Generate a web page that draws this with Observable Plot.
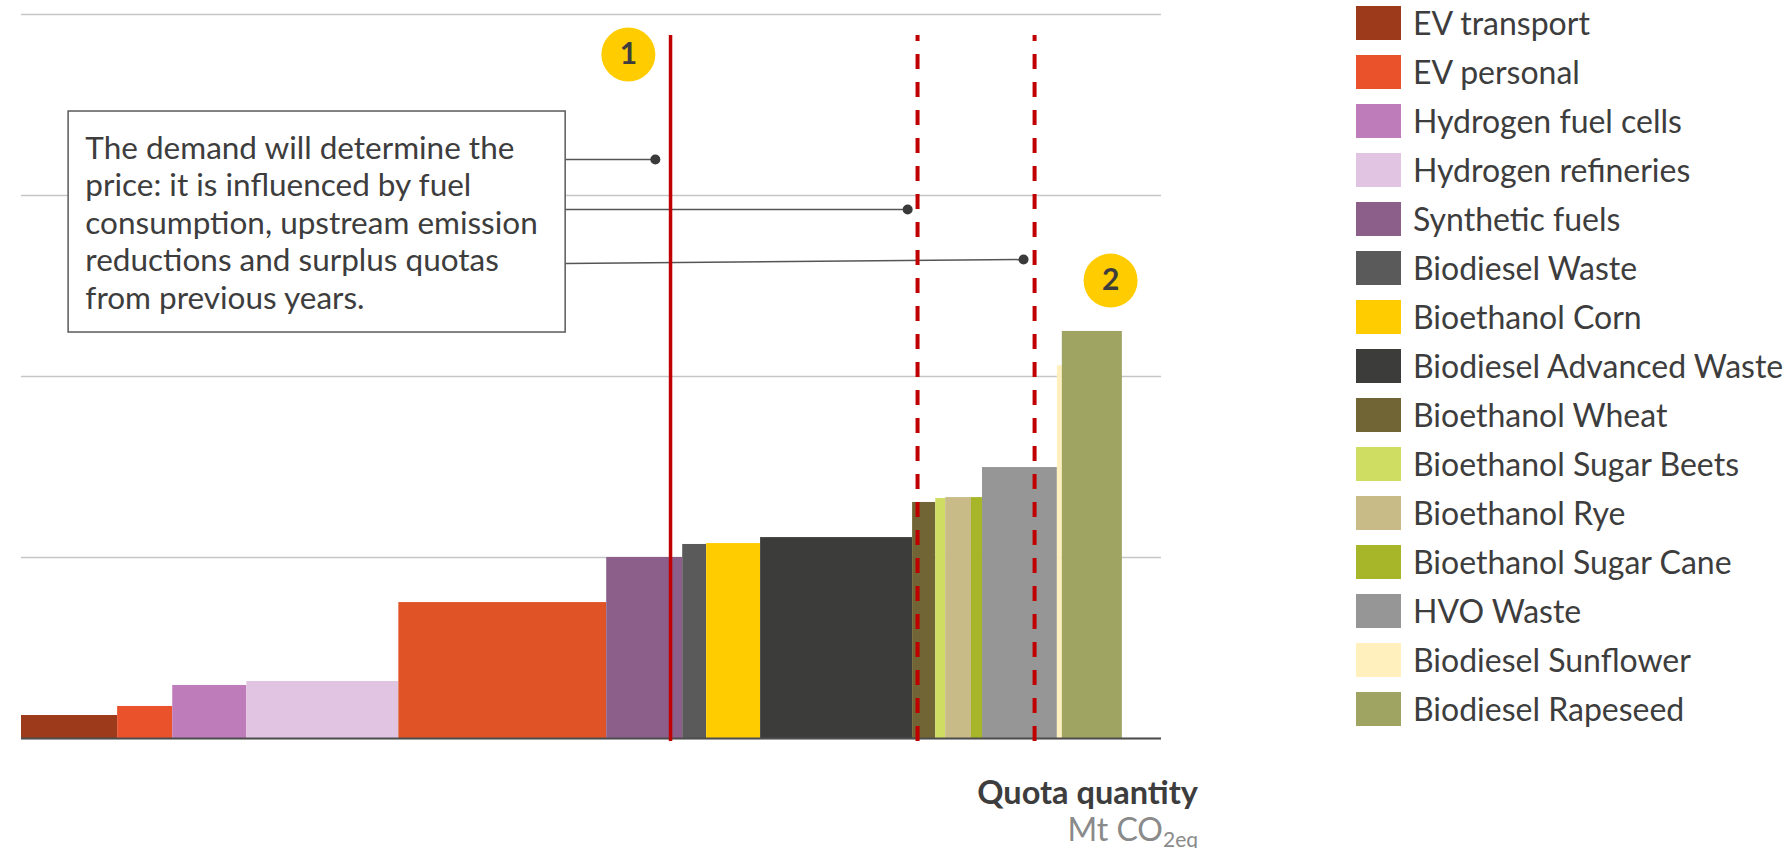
<!DOCTYPE html>
<html>
<head>
<meta charset="utf-8">
<script src="https://cdn.jsdelivr.net/npm/d3@7"></script>
<script src="https://cdn.jsdelivr.net/npm/@observablehq/plot@0.6"></script>
<style>
  html, body { margin: 0; padding: 0; background: #fff; }
  body { width: 1788px; height: 848px; position: relative; overflow: hidden; font-family: Lato, "Open Sans", sans-serif; }
  #chart { position: absolute; left: 0; top: 0; }
  #legend { position: absolute; left: 1356px; top: 6px; }
  .row { display: flex; align-items: center; height: 34px; margin-bottom: 15px; }
  .sw { width: 45px; height: 34px; flex: none; }
  .lb { margin-left: 12px; font-size: 32px; color: #3d3d3d; white-space: nowrap; line-height: 34px; }
</style>
</head>
<body>
<div id="chart"></div>
<div id="legend"></div>
<script>
// ---- Legend categories and colours ----
const categories = ["EV transport","EV personal","Hydrogen fuel cells","Hydrogen refineries","Synthetic fuels","Biodiesel Waste","Bioethanol Corn","Biodiesel Advanced Waste","Bioethanol Wheat","Bioethanol Sugar Beets","Bioethanol Rye","Bioethanol Sugar Cane","HVO Waste","Biodiesel Sunflower","Biodiesel Rapeseed"];
const colors = ["#9E3A1C","#E9522A","#BE7CBB","#E1C4E1","#8C5F8B","#5A5A5A","#FFCC00","#3C3C3B","#716535","#CFDD63","#C8BB87","#A6B628","#969696","#FFF0BE","#9FA463"];

// ---- Bars of the abatement curve (ordered) ----
const barCategory = ["EV transport","EV personal","Hydrogen fuel cells","Hydrogen refineries","EV personal","Synthetic fuels","Biodiesel Waste","Bioethanol Corn","Biodiesel Advanced Waste","Bioethanol Wheat","Bioethanol Sugar Beets","Bioethanol Rye","Bioethanol Sugar Cane","HVO Waste","Biodiesel Sunflower","Biodiesel Rapeseed"];
const barFill = ["#9E3A1C","#E9522A","#BE7CBB","#E1C4E1","#E05326","#8C5F8B","#5A5A5A","#FFCC00","#3C3C3B","#716535","#CFDD63","#C8BB87","#A6B628","#969696","#FFF0BE","#9FA463"];
const barWidth = [2.53,1.45,1.95,4.0,5.47,2.0,0.63,1.42,4.0,0.61,0.26,0.68,0.29,1.97,0.13,1.58]; // Mt CO2eq
const barPrice = [12.7,17.7,29.3,31.5,75.1,100,107.2,107.7,111,130.4,132.6,133.1,133.1,149.7,206,224.9];

// ---- Gridlines ----
const yTicks = [0,100,200,300,400];

// ---- Demand lines ----
const demandX = [17.08, 23.58, 26.66];
const demandDashed = [false, true, true];
const demandTop = 388.4;

// ---- Numbered markers ----
const markerLabel = ["1","2"];
const markerX = [15.97, 28.66];
const markerY = [377.9, 253];

// ---- Annotation box ----
const noteText = "The demand will determine the\nprice: it is influenced by fuel\nconsumption, upstream emission\nreductions and surplus quotas\nfrom previous years.";
const noteBox = {x1: 1.24, x2: 14.32, y1: 224.3, y2: 346.4};
const noteTextPos = {x: 1.68, y: 335.0};
const connX1 = [14.32, 14.32, 14.32];
const connY1 = [319.9, 292.3, 262.4];
const connX2 = [16.68, 23.32, 26.37];
const connY2 = [319.9, 292.3, 264.6];

const cum = d3.cumsum(barWidth);
const bars = barCategory.map((c, i) => ({
  category: c, fill: barFill[i],
  x1: i === 0 ? 0 : cum[i - 1], x2: cum[i], price: barPrice[i]
}));
const demand = demandX.map((x, i) => ({x, dashed: demandDashed[i]}));
const markers = markerLabel.map((l, i) => ({label: l, x: markerX[i], y: markerY[i]}));
const conns = connX1.map((x, i) => ({x1: x, y1: connY1[i], x2: connX2[i], y2: connY2[i]}));

const plot = Plot.plot({
  width: 1300, height: 848,
  marginLeft: 21, marginRight: 139, marginTop: 14, marginBottom: 110,
  x: {domain: [0, 30], axis: null},
  y: {domain: [0, 400], axis: null},
  style: {fontFamily: "Lato, sans-serif", background: "transparent", overflow: "visible"},
  marks: [
    Plot.ruleY(yTicks, {stroke: "#c6c6c6", strokeWidth: 1.5}),
    Plot.rect(bars, {x1: "x1", x2: "x2", y1: 0, y2: "price", fill: "fill"}),
    Plot.ruleY([0], {stroke: "#4d4d4d", strokeWidth: 2}),
    Plot.rect([noteBox], {x1: "x1", x2: "x2", y1: "y1", y2: "y2", fill: "white", stroke: "#5a5a5a", strokeWidth: 1.5}),
    Plot.text([noteTextPos], {x: "x", y: "y", text: () => noteText, textAnchor: "start", lineAnchor: "top", fontSize: 31.5, lineHeight: 1.19, fill: "#3d3d3d"}),
    Plot.link(conns, {x1: "x1", y1: "y1", x2: "x2", y2: "y2", stroke: "#555", strokeWidth: 1.5}),
    Plot.ruleX(demand.filter(d => !d.dashed), {x: "x", y1: -1.6, y2: demandTop, stroke: "#C00000", strokeWidth: 3.5}),
    Plot.ruleX(demand.filter(d => d.dashed), {x: "x", y1: -1.6, y2: demandTop, stroke: "#C00000", strokeWidth: 4, strokeDasharray: "15,13"}),
    Plot.dot(conns, {x: "x2", y: "y2", r: 5, fill: "#3a3a3a"}),
    Plot.dot(markers, {x: "x", y: "y", r: 27, fill: "#FFCC00"}),
    Plot.text(markers, {x: "x", y: "y", text: "label", fontSize: 30, fontWeight: "bold", fill: "#3d3d3d"})
  ]
});
document.getElementById("chart").appendChild(plot);

// axis title
const svg = d3.select(plot);
svg.append("text").attr("x", 1198).attr("y", 804).attr("text-anchor", "end")
  .attr("font-family", "Lato, sans-serif").attr("font-size", 32.5).attr("font-weight", "bold").attr("fill", "#3d3d3d")
  .text("Quota quantity");
const unit = svg.append("text").attr("x", 1198).attr("y", 841).attr("text-anchor", "end")
  .attr("font-family", "Lato, sans-serif").attr("font-size", 32).attr("fill", "#8a8a8a");
unit.append("tspan").text("Mt CO");
unit.append("tspan").attr("font-size", 21).attr("dy", 6).text("2eq");

// legend
const legend = d3.select("#legend");
categories.forEach((c, i) => {
  const row = legend.append("div").attr("class", "row");
  row.append("div").attr("class", "sw").style("background", colors[i]);
  row.append("div").attr("class", "lb").text(c);
});
</script>
</body>
</html>
